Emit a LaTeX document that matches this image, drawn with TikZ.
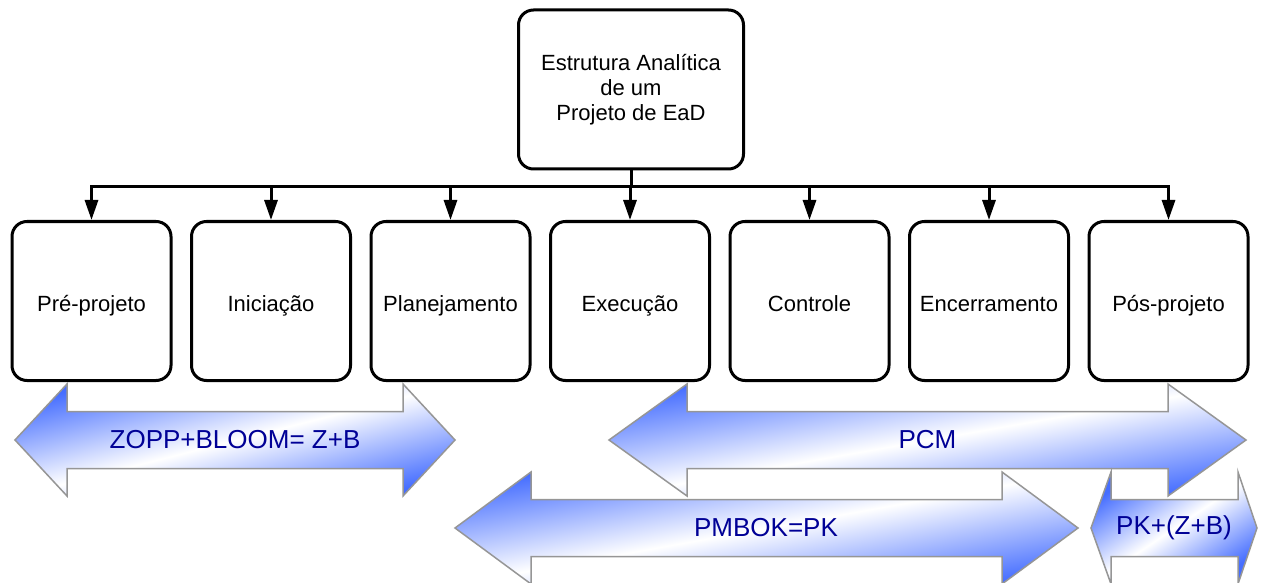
\documentclass[tikz,border=0pt]{standalone}
\usepackage{fontspec}
\setmainfont{Liberation Sans}
\usetikzlibrary{positioning,arrows.meta}
\definecolor{bandblue}{RGB}{70,110,255}
\definecolor{bandtext}{RGB}{0,0,150}
\definecolor{bandline}{RGB}{150,150,150}
\begin{document}
\begin{tikzpicture}[x=1pt, y=1pt, node distance={179.5pt},
  main/.style = {draw, line width=3pt, rounded corners=15pt, minimum width=159pt, minimum height=159pt, align=center, font=\fontsize{22}{25}\selectfont},
  phase/.style = {main, text height=22pt, text depth=2pt},
  band/.style = {draw=bandline, line width=1.5pt, top color=bandblue, bottom color=bandblue, middle color=white, shading angle=#1},
  tag/.style = {text=bandtext, font=\fontsize{26}{30}\selectfont},
  link/.style = {line width=3pt, -{Triangle[length=20pt, width=13pt]}}]
\useasboundingbox (0,0) rectangle (1262,-583);

\node[main, minimum width=225pt] (0) at (631,-89.5) {Estrutura Analítica\\de um\\Projeto de EaD};

\node[phase] (1) at (91.5,-301) {Pré-projeto};
\node[phase] (2) [right of=1] {Iniciação};
\node[phase] (3) [right of=2] {Planejamento};
\node[phase] (4) [right of=3] {Execução};
\node[phase] (5) [right of=4] {Controle};
\node[phase] (6) [right of=5] {Encerramento};
\node[phase] (7) [right of=6] {Pós-projeto};

\coordinate (bus) at (0,-187);
\draw[line width=3pt] (0.south) -- (0.south |- bus);
\draw[line width=3pt, line cap=rect] (bus -| 1.north) -- (bus -| 7.north);
\foreach \i in {1,...,7}
  \draw[link] (bus -| \i.north) -- (\i.north);

% phases
\path[band=14.3] (15,-440) -- (67,-384) -- (67,-411.5) -- (403,-411.5) -- (403,-384) -- (455,-440)
  -- (403,-496) -- (403,-468.5) -- (67,-468.5) -- (67,-496) -- cycle;
\node[tag] (zb) at (235,-440) {ZOPP+BLOOM= Z+B};

\path[band=10] (609,-440) -- (687,-384) -- (687,-411.5) -- (1168,-411.5) -- (1168,-384) -- (1246,-440)
  -- (1168,-496) -- (1168,-468.5) -- (687,-468.5) -- (687,-496) -- cycle;
\node[tag] (pcm) at (927.5,-440) {PCM};

\path[band=10.2] (455,-528) -- (531,-472) -- (531,-499.5) -- (1002,-499.5) -- (1002,-472) -- (1078,-528)
  -- (1002,-584) -- (1002,-556.5) -- (531,-556.5) -- (531,-584) -- cycle;
\node[tag] (pk) at (766,-528) {PMBOK=PK};

\path[band=34] (1091,-528) -- (1111,-472) -- (1111,-499.5) -- (1238,-499.5) -- (1238,-472) -- (1257,-528)
  -- (1238,-584) -- (1238,-556.5) -- (1111,-556.5) -- (1111,-584) -- cycle;
\node[tag] (pkzb) at (1174,-528) {PK+(Z+B)};

\end{tikzpicture}
\end{document}
